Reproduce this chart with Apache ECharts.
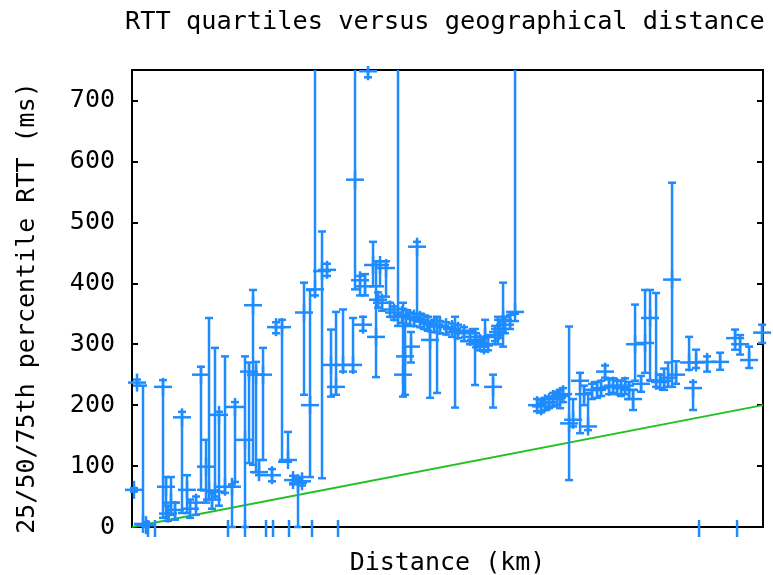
<!DOCTYPE html>
<html>
<head>
<meta charset="utf-8">
<script src="https://cdn.jsdelivr.net/npm/echarts@6/dist/echarts.min.js"></script>
<style>
html,body{margin:0;padding:0;background:#fff;}
#chart{width:773px;height:575px;}
</style>
</head>
<body>
<div id="chart"></div>
<script>
// Distance (km) of each measured host pair
var distKm = [63,159,349,444,983,1078,1141,1236,1363,1585,1744,1839,2029,2187,2346,2441,2536,2631,2758,2948,3170,3265,3582,3709,3836,3931,4026,4153,4438,4565,4755,4945,5104,5262,5389,5452,5643,5801,6023,6182,6308,6467,6689,7006,7069,7228,7323,7386,7481,7640,7735,7862,8052,8432,
7798,7925,8179,8305,8559,8686,8813,8939,9130,9256,9383,9573,9764,9954,10144,10334,10524,10715,10905,11032,11158,11285,
8591,8654,8844,9035,9447,9669,10239,10873,11444,11761,12141,11507,11666,11824,11983,11190,11602,
12839,12965,13092,13219,13346,13473,13568,13663,13853,13980,14202,14328,14455,14582,14741,14867,14994,15121,15248,15375,15501,15628,15755,15882,15945,16135,16262,16421,16611,16738,16864,16991,17118,17245,17657,17783,17879,18228,18640,19115,19274,19559,19971];
// 25th percentile RTT (ms)
var rttP25 = [58,232,2,0,15,16,10,20,12,23,23,15,20,61,40,45,30,50,35,56,0,74,0,105,102,90,85,110,75,318,107,107,70,0,68,217,82,380,80,412,214,217,255,255,390,380,322,380,738,395,246,395,378,330,
360,355,345,340,335,333,330,330,328,325,322,320,318,316,312,310,305,300,295,290,288,290,
214,217,270,345,212,220,196,233,196,296,350,305,310,318,325,296,300,
190,188,192,195,198,200,195,205,77,165,154,200,159,210,212,215,245,218,220,218,215,218,210,192,240,222,253,241,230,228,225,230,230,235,258,192,261,255,258,291,283,261,302];
// 50th percentile (median) RTT (ms)
var rttP50 = [61,237,5,3,230,66,22,40,28,180,61,30,40,250,99,60,45,58,184,66,66,197,143,255,364,250,90,250,85,328,328,110,77,72,75,352,200,390,420,422,266,230,266,266,570,405,332,395,748,430,312,430,425,345,
373,368,357,352,348,345,343,342,340,337,334,332,330,328,325,322,318,312,307,302,298,300,
250,280,296,460,307,330,320,305,230,340,353,315,325,332,338,312,320,
200,198,203,205,210,212,215,218,170,176,240,218,165,225,225,228,255,230,232,230,228,232,225,210,300,235,302,343,240,238,240,245,406,250,270,228,270,271,271,310,300,274,319];
// 75th percentile RTT (ms)
var rttP75 = [64,242,232,8,241,82,35,82,40,189,85,45,50,263,143,343,55,294,189,280,70,205,280,270,389,271,110,294,95,336,340,156,84,80,82,401,389,900,485,432,324,353,357,343,900,412,345,415,752,468,436,436,436,900,
385,378,368,362,358,356,352,350,350,347,345,340,338,336,334,332,328,322,318,312,310,312,
368,330,320,468,329,345,345,325,250,401,900,330,340,345,348,340,345,
210,208,212,214,220,222,225,228,329,210,253,232,220,235,238,240,265,242,244,240,240,244,238,225,365,248,389,389,384,250,260,270,565,272,312,238,291,280,286,324,315,296,332];
// Distances of hosts whose RTT quartiles fall off the scale (drawn as ticks on the axis)
var offscaleKm = [507,729,3043,3582,4248,4470,4977,5706,6530,17973,19178];
// Reference lower bound line (ms)
var boundKm = [0,20000];
var boundRtt = [0,200];
var yTicks = [0,100,200,300,400,500,600,700];

var Y_MIN = 0, Y_MAX = 750, X_MIN = 0, X_MAX = 20000;
var BLUE = '#1e8bff', GREEN = '#22c022';
var FONT = 'DejaVu Sans Mono';
var LW = 2.5;

var barData = distKm.map(function(d,i){ return [d, rttP25[i], rttP50[i], rttP75[i]]; });

function renderBar(params, api){
  var x = api.value(0), lo = api.value(1), med = api.value(2), hi = api.value(3);
  var hiC = Math.min(hi, Y_MAX), loC = Math.max(lo, Y_MIN - 20);
  var pLo = api.coord([x, loC]), pHi = api.coord([x, hiC]);
  var st = {stroke: BLUE, lineWidth: LW};
  var kids = [{type:'line', shape:{x1:pLo[0], y1:pLo[1], x2:pHi[0], y2:pHi[1]}, style:st}];
  var cap = 4;
  kids.push({type:'line', shape:{x1:pLo[0]-cap, y1:pLo[1], x2:pLo[0]+cap, y2:pLo[1]}, style:st});
  if (hi <= Y_MAX) kids.push({type:'line', shape:{x1:pHi[0]-cap, y1:pHi[1], x2:pHi[0]+cap, y2:pHi[1]}, style:st});
  if (med <= Y_MAX + 5) {
    var pm = api.coord([x, med]);
    var s = 9;
    kids.push({type:'line', shape:{x1:pm[0]-s, y1:pm[1], x2:pm[0]+s, y2:pm[1]}, style:st});
    kids.push({type:'line', shape:{x1:pm[0], y1:Math.max(pm[1]-s, 66), x2:pm[0], y2:pm[1]+s}, style:st});
  }
  return {type:'group', children:kids};
}

function renderOff(params, api){
  var p = api.coord([api.value(0), 0]);
  return {type:'line', shape:{x1:p[0], y1:p[1]-7, x2:p[0], y2:p[1]+10}, style:{stroke:BLUE, lineWidth:LW}};
}

var chart = echarts.init(document.getElementById('chart'), null, {renderer:'canvas'});
chart.setOption({
  animation: false,
  backgroundColor: '#fff',
  textStyle: {fontFamily: FONT},
  title: {
    text: 'RTT quartiles versus geographical distance',
    left: 120, top: 5,
    textStyle: {fontFamily: FONT, fontSize: 25.3, fontWeight: 'normal', color: '#000'}
  },
  graphic: [{
    type: 'text', x: 27, y: 308, rotation: Math.PI / 2,
    style: {text: '25/50/75th percentile RTT (ms)', font: '25px "DejaVu Sans Mono"', fill: '#000',
      textAlign: 'center', textVerticalAlign: 'middle'}
  }],
  grid: {left: 132, right: 10, top: 70, bottom: 48, outerBoundsMode: 'none', containLabel: false,
    show: true, borderColor: '#000', borderWidth: 2, backgroundColor: 'transparent'},
  xAxis: {
    type: 'value', min: X_MIN, max: X_MAX,
    name: 'Distance (km)', nameLocation: 'middle', nameGap: 24,
    nameTextStyle: {fontFamily: FONT, fontSize: 25, color: '#000'},
    axisLine: {show: true, lineStyle: {color: '#000', width: 2}},
    axisTick: {show: false}, axisLabel: {show: false}, splitLine: {show: false}
  },
  yAxis: [{
    type: 'value', min: Y_MIN, max: Y_MAX, interval: 100, position: 'left',
    axisLine: {show: true, lineStyle: {color: '#000', width: 2}},
    axisTick: {show: true, inside: true, length: 6, lineStyle: {color: '#000', width: 2}},
    axisLabel: {show: true, margin: 17, fontFamily: FONT, fontSize: 25, color: '#000', showMaxLabel: false,
      formatter: function(v){ return yTicks.indexOf(v) >= 0 ? String(v) : ''; }},
    splitLine: {show: false}
  },{
    type: 'value', min: Y_MIN, max: Y_MAX, interval: 100, position: 'right',
    axisLine: {show: true, lineStyle: {color: '#000', width: 2}},
    axisTick: {show: true, inside: true, length: 6, lineStyle: {color: '#000', width: 2}},
    axisLabel: {show: false}, splitLine: {show: false}
  }],
  series: [{
    type: 'line', data: boundKm.map(function(d,i){ return [d, boundRtt[i]]; }),
    showSymbol: false, symbol: 'none', lineStyle: {color: GREEN, width: 2}, z: 1, silent: true
  },{
    type: 'custom', data: barData, renderItem: renderBar, clip: false,
    encode: {x: 0, y: [1,2,3]}, z: 3, silent: true
  },{
    type: 'custom', data: offscaleKm.map(function(d){ return [d]; }), renderItem: renderOff, clip: false,
    encode: {x: 0}, z: 3, silent: true
  }]
});
</script>
</body>
</html>
